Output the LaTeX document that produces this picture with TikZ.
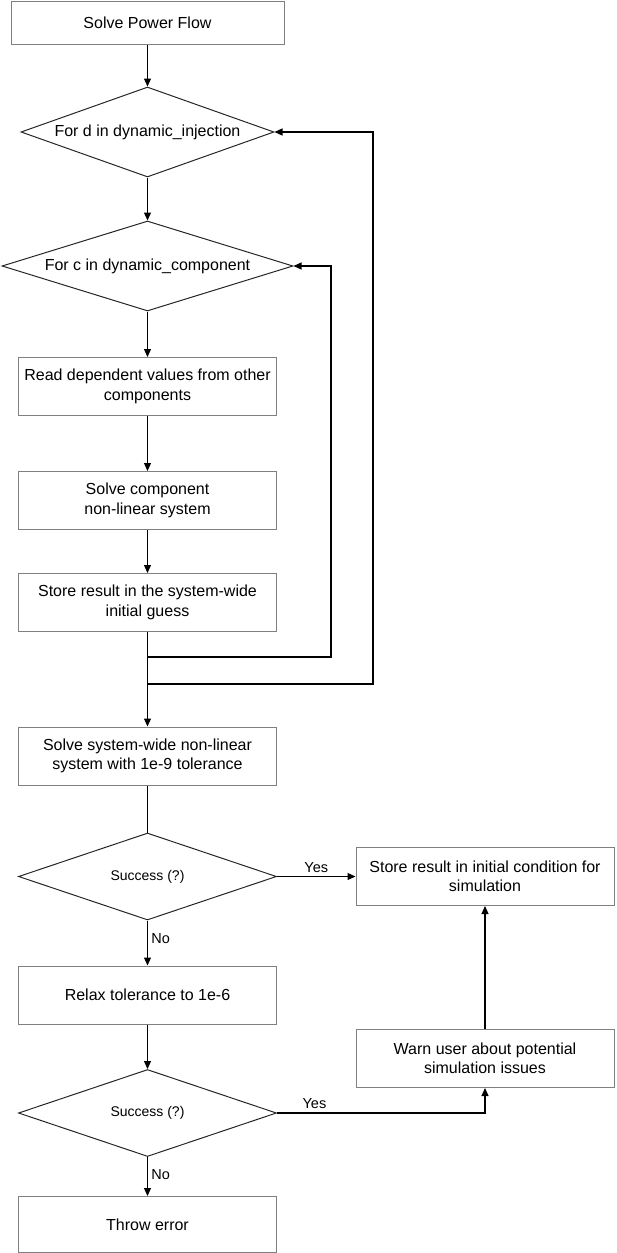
\documentclass[tikz,border=0pt]{standalone}
\usepackage{fontspec}
\setmainfont{Liberation Sans}
\usetikzlibrary{positioning,shapes.geometric,arrows.meta}

\begin{document}
\begin{tikzpicture}[x=1pt,y=-1pt,on grid,auto,
	every node/.style={font=\fontsize{16}{19.5}\selectfont},
	process/.style={rectangle, draw={rgb,255:red,128;green,128;blue,128}, line width=1pt,
		minimum width=258pt, minimum height=58pt, inner sep=0pt, align=center},
	decision/.style={diamond, aspect=2.8, draw=black!85, line width=1pt, inner sep=0pt,
		minimum width=258pt, minimum height=87pt, align=center},
	flow/.style={line width=1.1pt, draw=black},
	arr/.style={flow, -{Triangle[length=8pt,width=7pt]}},
	lbl/.style={font=\fontsize{14.5}{16}\selectfont}]
	\useasboundingbox (0,0) rectangle (616,1253);
	\node[process, minimum width=273pt, minimum height=43pt] (pf) at (147.5,22.5) {Solve Power Flow};
	\node[decision, minimum width=253pt, minimum height=90pt] (d) [below=109.5pt of pf] {For d in dynamic\_injection};
	\node[decision, minimum width=291pt, minimum height=90pt] (c) [below=134pt of d] {For c in dynamic\_component};
	\node[process] (read) [below=120.5pt of c] {Read dependent values from other\\components};
	\node[process] (solvec) [below=114pt of read] {Solve component\\non-linear system};
	\node[process] (store) [below=102pt of solvec] {Store result in the system-wide\\initial guess};
	\node[process] (sys) [below=153.5pt of store] {Solve system-wide non-linear\\system with 1e-9 tolerance};
	\node[decision, font=\fontsize{14}{16}\selectfont] (succ1) [below=120.5pt of sys] {Success (?)};
	\node[process] (relax) [below=118.5pt of succ1] {Relax tolerance to 1e-6};
	\node[decision, font=\fontsize{14}{16}\selectfont] (succ2) [below=118pt of relax] {Success (?)};
	\node[process, minimum height=56pt] (throw) [below=111.5pt of succ2] {Throw error};
	\node[process] (init) [right=337.5pt of succ1] {Store result in initial condition for\\simulation};
	\node[process] (warn) [below=182pt of init] {Warn user about potential\\simulation issues};
	% loop return points
	\coordinate (cback) at (331,657);
	\coordinate (dback) at (373,684);
	\draw[arr] (pf) -- (d);
	\draw[arr] (d) -- (c);
	\draw[arr] (c) -- (read);
	\draw[arr] (read) -- (solvec);
	\draw[arr] (solvec) -- (store);
	\draw[arr] (store) -- (sys);
	\draw[arr] (store.south) |- (cback) |- (c.east);
	\draw[arr] (store.south) |- (dback) |- (d.east);
	\draw[flow] (sys) -- (succ1);
	\draw[arr] (succ1) -- node[lbl, above] {Yes} (init);
	\draw[arr] (succ1) -- node[lbl, right, pos=0.4] {No} (relax);
	\draw[arr] (relax) -- (succ2);
	\draw[arr] (succ2.east) -| node[lbl, above, pos=0.09] {Yes} (warn.south);
	\draw[arr] (succ2) -- node[lbl, right, pos=0.45] {No} (throw);
	\draw[arr] (warn) -- (init);
\end{tikzpicture}
\end{document}
